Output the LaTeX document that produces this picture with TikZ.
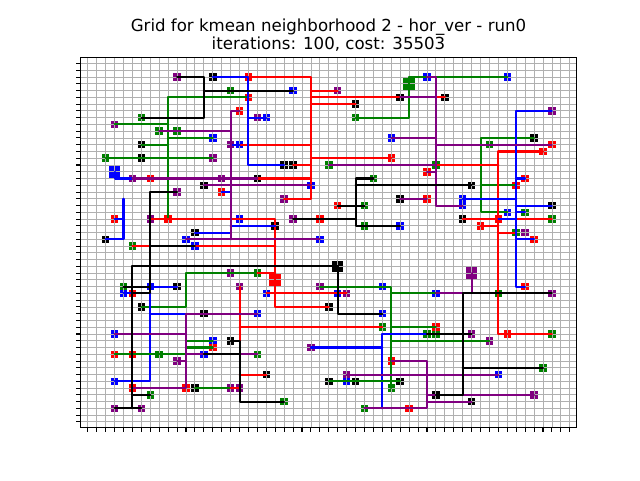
\documentclass[tikz,border=0pt]{standalone}
\usepackage{fontspec}
\setmainfont{DejaVu Sans}
\definecolor{netgreen}{RGB}{0,128,0}
\definecolor{netpurple}{RGB}{128,0,128}
\definecolor{gridgray}{RGB}{176,176,176}
\tikzset{
	pin/.style={rectangle,minimum size=1.5mm,inner sep=0pt,outer sep=0pt},
	bigpin/.style={rectangle,minimum size=2.3mm,inner sep=0pt,outer sep=0pt},
	net/.style={line width=1.17pt,line join=round,line cap=round},
	gnet/.style={net,netgreen},
	rnet/.style={net,red},
	bnet/.style={net,blue},
	pnet/.style={net,netpurple},
	knet/.style={net,black},
	gridline/.style={line width=.5pt,gridgray},
	axisline/.style={line width=.6pt,black}
}
\begin{document}
\begin{tikzpicture}[font=\fontsize{9.45}{9.9}\selectfont]
	\useasboundingbox (0,0) rectangle (12.8,9.6);
	\node[align=center] (title) at (6.57,8.9) {Grid for kmean neighborhood 2 - hor\_ver - run0\\iterations: 100, cost: 35503};
	\begin{scope}[shift={(1.756,8.328)},x=0.17852cm,y=-0.1352cm]
	\def\xl{-0.82} \def\xr{54.75} \def\yt{-0.84} \def\yb{53.83}
	\foreach \pinc/\pinlist in {
		black/{14/2,6/12,6/14,22/15,23/15,30/6,35/5,40/5,19/17,13/18,50/11,43/18,21/24,12/25,2/26,35/20,52/21,42/23,10/33,6/36,27/36,13/37,16/41,20/46,27/47,30/47,35/47,12/48,39/49,43/50},
		netgreen/{16/4,6/8,8/10,10/10,2/14,30/8,27/15,39/15,32/17,31/21,31/24,45/12,49/22,52/23,48/25,46/34,5/27,4/33,19/31,8/43,7/49,19/43,33/39,22/50,31/51,34/48,38/40,39/40,51/45,52/40},
		blue/{23/4,14/11,38/2,47/2,20/8,17/12,34/11,25/18,17/23,11/26,12/27,26/26,35/24,7/33,4/34,20/34,28/34,33/33,39/34,42/20,42/21,47/22,19/37,33/37,3/40,14/41,13/43,3/47,29/47,46/46},
		red/{18/2,18/5,17/7,34/14,7/17,15/19,3/23,9/23,26/23,28/21,38/16,38/20,48/18,49/17,52/12,51/13,44/24,46/23,50/26,49/33,5/34,14/42,3/43,5/43,11/48,5/48,34/44,39/39,47/40,36/51},
		netpurple/{10/2,3/9,16/12,14/14,28/4,5/17,15/17,19/8,10/19,7/23,22/20,23/23,52/7,49/25,16/31,17/33,26/33,29/34,52/34,25/42,10/44,16/48,17/48,3/51,6/51,29/46,43/40,45/41,50/49}}
		\foreach \i/\j in \pinlist \node[pin,fill=\pinc] (n\i-\j) at (\i,\j) {};
	\foreach \pinc/\i/\j in {netgreen/36/3,blue/3/16,red/21/32,black/28/30,netpurple/43/31}
		\node[bigpin,fill=\pinc] (n\i-\j) at (\i,\j) {};
	\foreach \i in {0,...,54} {
		\draw[gridline] (\i,\yt) -- (\i,\yb);
		\draw[axisline] (\i,\yb) -- (\i,\yb+0.72);
	}
	\foreach \j in {0,...,53} {
		\draw[gridline] (\xl,\j) -- (\xr,\j);
		\draw[axisline] (\xl,\j) -- (\xl-0.55,\j);
	}
	\draw[axisline] (\xl,\yt) rectangle (\xr,\yb);
	\foreach \i/\j in {13/2,13/8,13/4,7/19,7/34,7/27,5/30,5/51,5/49,28/37,30/17,30/24,30/18,30/23,42/34,42/49,42/45,17/43,17/41,17/50,
		16/7,16/26,16/10,39/2,39/21,39/5,39/11,39/12,39/16,43/34,11/37,11/40,11/43,11/44,38/44,38/51,38/49,38/50,
		18/15,18/8,3/17,16/19,16/25,16/24,4/23,4/20,4/26,7/47,7/37,33/42,33/40,33/51,48/20,48/7,48/33,48/17,48/21,48/22,48/23,48/26,
		25/2,25/20,25/4,25/5,25/6,25/12,25/14,25/15,25/17,21/23,21/36,21/27,21/31,17/39,17/46,46/13,46/40,46/15,46/24,46/25,
		9/5,9/9,9/11,9/12,36/8,36/2,44/11,44/22,44/18,11/31,11/36,34/33,34/34,34/39,34/41,11/41,11/42}
		\coordinate (c\i-\j) at (\i,\j);
	\draw[gnet] (n18-5.center) -- (c9-5) -- (n9-23.center);
	\draw[gnet] (n3-9.center) -- (c9-9);
	\draw[gnet] (c9-11) -- (n14-11.center);
	\draw[gnet] (n6-12.center) -- (c9-12);
	\draw[gnet] (n2-14.center) -- (n14-14.center);
	\draw[gnet] (n30-8.center) -- (c36-8) -- (c36-2) -- (n47-2.center);
	\draw[gnet] (n50-11.center) -- (c44-11) -- (c44-22) -- (n47-22.center);
	\draw[gnet] (c44-18) -- (n48-18.center);
	\draw[gnet] (n19-31.center) -- (c11-31) -- (c11-36) -- (n6-36.center);
	\draw[gnet] (n26-33.center) -- (c34-33) -- (n34-48.center);
	\draw[gnet] (c34-34) -- (n39-34.center);
	\draw[gnet] (c34-39) -- (n39-39.center);
	\draw[gnet] (c34-41) -- (n45-41.center);
	\draw[gnet] (n12-48.center) -- (n16-48.center);
	\draw[rnet] (n18-2.center) -- (c25-2) -- (c25-20) -- (n22-20.center);
	\draw[rnet] (c25-4) -- (n28-4.center);
	\draw[rnet] (c25-5) -- (n40-5.center);
	\draw[rnet] (c25-6) -- (n30-6.center);
	\draw[rnet] (n17-12.center) -- (c25-12);
	\draw[rnet] (c25-14) -- (n34-14.center);
	\draw[rnet] (n23-15.center) -- (c25-15);
	\draw[rnet] (n19-17.center) -- (c25-17);
	\draw[rnet] (n7-23.center) -- (c21-23) -- (c21-36) -- (n27-36.center);
	\draw[rnet] (n5-27.center) -- (c21-27);
	\draw[rnet] (n19-31.center) -- (c21-31);
	\draw[rnet] (n20-34.center) -- (n29-34.center);
	\draw[rnet] (n17-33.center) -- (n17-48.center) -- (n16-48.center);
	\draw[rnet] (c17-39) -- (n33-39.center);
	\draw[rnet] (c17-46) -- (n20-46.center);
	\draw[rnet] (n51-13.center) -- (c46-13) -- (c46-40) -- (n52-40.center);
	\draw[rnet] (n39-15.center) -- (c46-15);
	\draw[rnet] (n42-23.center) -- (n52-23.center);
	\draw[rnet] (n44-24.center) -- (c46-24);
	\draw[rnet] (c46-25) -- (n48-25.center);
	\draw[bnet] (n14-2.center) -- (n18-2.center) -- (c18-15) -- (n22-15.center);
	\draw[bnet] (c18-8) -- (n20-8.center);
	\draw[bnet] (n16-12.center) -- (n17-12.center);
	\draw[bnet] (n3-16.center) -- (c3-17) -- (n5-17.center);
	\draw[bnet] (n15-19.center) -- (c16-19) -- (c16-25) -- (n12-25.center);
	\draw[bnet] (c16-24) -- (n21-24.center);
	\draw[bnet] (n3-23.center) -- (c4-23);
	\draw[bnet] (c4-20) -- (c4-26) -- (n2-26.center);
	\draw[bnet] (n10-33.center) -- (n7-33.center) -- (c7-47) -- (n3-47.center);
	\draw[bnet] (n4-34.center) -- (c7-34);
	\draw[bnet] (c7-37) -- (n19-37.center);
	\draw[bnet] (n25-42.center) -- (c33-42);
	\draw[bnet] (n38-40.center) -- (c33-40) -- (c33-51);
	\draw[bnet] (n42-20.center) -- (c48-20);
	\draw[bnet] (n52-7.center) -- (c48-7) -- (c48-33) -- (n49-33.center);
	\draw[bnet] (c48-17) -- (n49-17.center);
	\draw[bnet] (c48-21) -- (n52-21.center);
	\draw[bnet] (c48-22) -- (n49-22.center);
	\draw[bnet] (n46-23.center) -- (c48-23);
	\draw[bnet] (c48-26) -- (n50-26.center);
	\draw[gnet] (n3-43.center) -- (c11-43);
	\draw[gnet] (c11-41) -- (n14-41.center);
	\draw[gnet] (c11-42) -- (n14-42.center);
	\draw[gnet] (n27-47.center) -- (n35-47.center);
	\draw[pnet] (n17-7.center) -- (c16-7) -- (c16-26);
	\draw[pnet] (n8-10.center) -- (c16-10);
	\draw[pnet] (n5-17.center) -- (n19-17.center);
	\draw[pnet] (n13-18.center) -- (n25-18.center);
	\draw[pnet] (n11-26.center) -- (n26-26.center);
	\draw[pnet] (n38-2.center) -- (c39-2) -- (c39-21) -- (n42-21.center);
	\draw[pnet] (n35-5.center) -- (c39-5);
	\draw[pnet] (n34-11.center) -- (c39-11);
	\draw[pnet] (c39-12) -- (n52-12.center);
	\draw[pnet] (n27-15.center) -- (n39-15.center);
	\draw[pnet] (n35-20.center) -- (n38-20.center);
	\draw[pnet] (n38-16.center) -- (c39-16);
	\draw[pnet] (n43-31.center) -- (c43-34) -- (n39-34.center);
	\draw[pnet] (n19-37.center) -- (c11-37) -- (n11-48.center) -- (n5-48.center);
	\draw[pnet] (n3-40.center) -- (c11-40);
	\draw[pnet] (c11-43) -- (n19-43.center);
	\draw[pnet] (n10-44.center) -- (c11-44);
	\draw[pnet] (n34-44.center) -- (c38-44) -- (c38-51) -- (n31-51.center);
	\draw[pnet] (c38-49) -- (n50-49.center);
	\draw[pnet] (c38-50) -- (n43-50.center);
	\draw[pnet] (n29-46.center) -- (n46-46.center);
	\draw[knet] (n10-2.center) -- (c13-2) -- (c13-8) -- (n6-8.center);
	\draw[knet] (c13-4) -- (n23-4.center);
	\draw[knet] (n10-19.center) -- (c7-19) -- (c7-34) -- (n5-34.center);
	\draw[knet] (c7-27) -- (n12-27.center);
	\draw[knet] (n4-33.center) -- (n7-33.center);
	\draw[knet] (n28-30.center) -- (c5-30) -- (c5-51);
	\draw[knet] (n3-51.center) -- (n6-51.center);
	\draw[knet] (c5-49) -- (n7-49.center);
	\draw[knet] (n28-30.center) -- (c28-37) -- (n33-37.center);
	\draw[knet] (n32-17.center) -- (c30-17) -- (c30-24) -- (n35-24.center);
	\draw[knet] (c30-18) -- (n43-18.center);
	\draw[knet] (n23-23.center) -- (c30-23);
	\draw[knet] (n28-21.center) -- (n31-21.center);
	\draw[knet] (n52-34.center) -- (c42-34) -- (c42-49) -- (n39-49.center);
	\draw[knet] (c42-45) -- (n51-45.center);
	\draw[knet] (n38-40.center) -- (n43-40.center);
	\draw[knet] (n13-43.center) -- (c17-43);
	\draw[knet] (n16-41.center) -- (c17-41) -- (c17-50) -- (n22-50.center);
	\end{scope}
\end{tikzpicture}
\end{document}
